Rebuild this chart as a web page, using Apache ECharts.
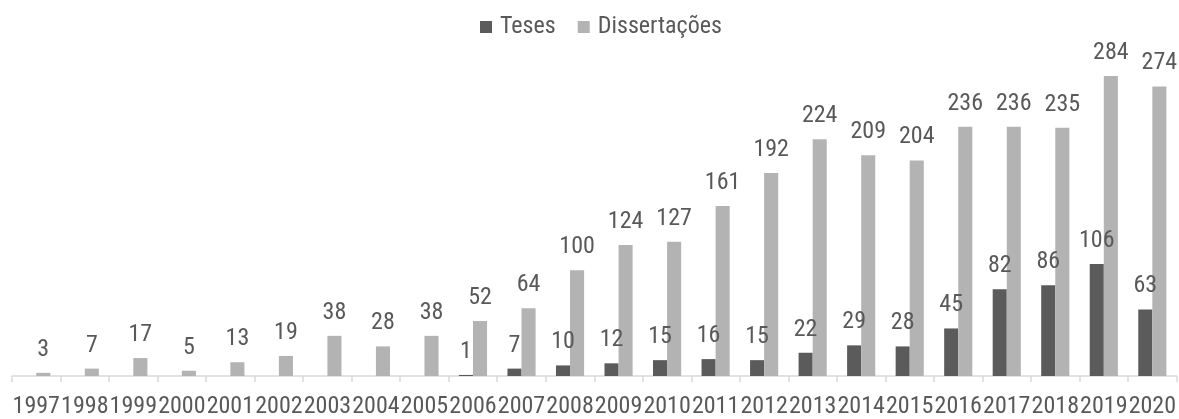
<!DOCTYPE html>
<html>
<head>
<meta charset="utf-8">
<script src="https://cdn.jsdelivr.net/npm/echarts@6/dist/echarts.min.js"></script>
<style>
html,body{margin:0;padding:0;background:#fff;}
#chart{width:1179px;height:419px;}
</style>
</head>
<body>
<div id="chart"></div>
<script>
var categories = ['1997','1998','1999','2000','2001','2002','2003','2004','2005','2006','2007','2008','2009','2010','2011','2012','2013','2014','2015','2016','2017','2018','2019','2020'];
var teses = [null,null,null,null,null,null,null,null,null,1,7,10,12,15,16,15,22,29,28,45,82,86,106,63];
var dissertacoes = [3,7,17,5,13,19,38,28,38,52,64,100,124,127,161,192,224,209,204,236,236,235,284,274];
var seriesNames = ['Teses','Dissertações'];

var FONT = '"Roboto Condensed", "Liberation Sans Narrow", "DejaVu Sans Condensed", Roboto, sans-serif';
var TXT = '#595959';
var chart = echarts.init(document.getElementById('chart'), null, {renderer:'canvas'});
var labelStyle = {show:true, position:'top', distance:11, color:TXT, fontSize:24, fontFamily:FONT};
chart.setOption({
  animation:false,
  legend:{
    top:15, left:480, padding:0, itemWidth:12, itemHeight:12, itemGap:22,
    icon:'rect',
    textStyle:{color:TXT, fontSize:24, fontFamily:FONT, padding:[0,0,0,3]},
    data:seriesNames
  },
  grid:{left:12, right:1, top:59, bottom:40},
  xAxis:{
    type:'category', data:categories,
    axisLine:{lineStyle:{color:'#d9d9d9', width:1.5}},
    axisTick:{show:true, length:6, lineStyle:{color:'#d9d9d9', width:1.5}},
    axisLabel:{color:TXT, fontSize:24, fontFamily:FONT, margin:19, interval:0}
  },
  yAxis:{type:'value', min:0, max:300, show:false, splitLine:{show:false}},
  series:[
    {name:seriesNames[0], type:'bar', data:teses, barGap:'0%', barCategoryGap:'42%',
     itemStyle:{color:'#5b5b5b'}, label:labelStyle},
    {name:seriesNames[1], type:'bar', data:dissertacoes, barGap:'0%', barCategoryGap:'42%',
     itemStyle:{color:'#b3b3b3'}, label:labelStyle}
  ]
});
</script>
</body>
</html>
